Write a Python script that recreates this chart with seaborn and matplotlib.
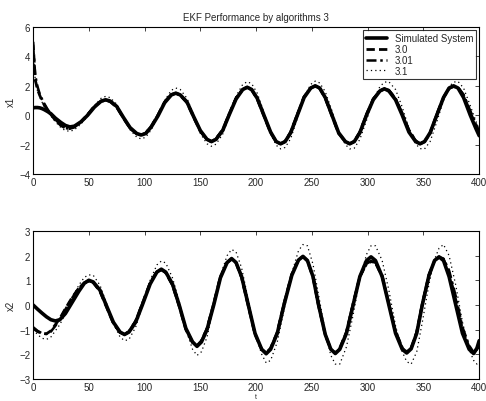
import matplotlib
matplotlib.use("Agg")
import matplotlib.pyplot as plt
import seaborn as sns
import pandas as pd

# time samples (x1)
t_top = [0, 2, 4, 6, 8, 10, 13, 16, 20, 25, 29, 33,
         37, 43, 49, 55, 61, 65, 69, 75, 81, 87, 93, 97,
         101, 106, 112, 118, 124, 128, 132, 138, 144, 150, 156, 160,
         164, 170, 176, 182, 188, 192, 196, 201, 207, 213, 218, 222,
         226, 231, 237, 243, 249, 253, 257, 262, 268, 274, 280, 284,
         288, 293, 299, 305, 311, 315, 319, 325, 331, 337, 343, 347,
         351, 356, 362, 368, 373, 377, 381, 386, 392, 397, 400]
x1_sim = [0.5, 0.52, 0.52, 0.5, 0.45, 0.38, 0.25, 0.1, -0.2, -0.5, -0.7, -0.8,
          -0.75, -0.45, 0.0, 0.55, 0.95, 1.05, 0.97, 0.6, -0.15, -0.85, -1.25, -1.35,
          -1.25, -0.8, -0.05, 0.85, 1.38, 1.5, 1.38, 0.9, -0.1, -1.05, -1.65, -1.8,
          -1.65, -1.05, 0.05, 1.1, 1.75, 1.9, 1.75, 1.15, 0.0, -1.15, -1.8, -1.95,
          -1.8, -1.2, 0.0, 1.2, 1.85, 2.0, 1.85, 1.2, 0.0, -1.2, -1.8, -1.95,
          -1.8, -1.2, 0.0, 1.05, 1.65, 1.8, 1.65, 1.05, 0.0, -1.15, -1.8, -1.95,
          -1.8, -1.2, 0.0, 1.2, 1.85, 2.0, 1.85, 1.2, 0.0, -0.9, -1.4]
x1_30 = [5.0, 2.4, 1.75, 1.35, 1.0, 0.7, 0.35, 0.05, -0.35, -0.7, -0.88, -0.92,
         -0.8, -0.45, 0.05, 0.6, 0.95, 1.0, 0.93, 0.55, -0.2, -0.9, -1.28, -1.35,
         -1.22, -0.75, 0.0, 0.9, 1.4, 1.5, 1.35, 0.85, -0.15, -1.1, -1.65, -1.8,
         -1.6, -1.0, 0.1, 1.15, 1.75, 1.9, 1.72, 1.1, -0.05, -1.2, -1.8, -1.95,
         -1.78, -1.15, 0.05, 1.25, 1.85, 2.0, 1.82, 1.15, -0.05, -1.25, -1.8, -1.95,
         -1.78, -1.15, 0.05, 1.1, 1.65, 1.78, 1.68, 1.1, 0.1, -1.05, -1.75, -1.95,
         -1.8, -1.2, 0.05, 1.2, 1.82, 1.95, 1.88, 1.35, 0.2, -0.7, -1.2]
x1_301 = [4.8, 2.7, 1.95, 1.45, 1.1, 0.8, 0.4, 0.1, -0.3, -0.68, -0.88, -0.93,
          -0.82, -0.47, 0.05, 0.62, 0.97, 1.02, 0.95, 0.57, -0.18, -0.88, -1.28, -1.37,
          -1.22, -0.75, 0.02, 0.92, 1.42, 1.52, 1.38, 0.88, -0.12, -1.08, -1.67, -1.82,
          -1.62, -1.0, 0.12, 1.17, 1.77, 1.92, 1.75, 1.12, -0.03, -1.18, -1.8, -1.97,
          -1.8, -1.15, 0.07, 1.27, 1.87, 2.0, 1.85, 1.18, -0.03, -1.22, -1.8, -1.97,
          -1.8, -1.15, 0.07, 1.12, 1.68, 1.8, 1.72, 1.15, 0.15, -1.0, -1.72, -1.95,
          -1.82, -1.25, 0.07, 1.22, 1.83, 1.95, 1.9, 1.4, 0.3, -0.6, -1.1]
x1_31 = [5.0, 2.3, 1.65, 1.25, 0.9, 0.6, 0.25, -0.05, -0.45, -0.85, -1.05, -1.1,
         -1.0, -0.6, -0.05, 0.65, 1.15, 1.28, 1.2, 0.75, -0.1, -1.0, -1.5, -1.62,
         -1.5, -1.0, -0.05, 1.0, 1.7, 1.85, 1.75, 1.15, 0.0, -1.25, -1.95, -2.12,
         -1.98, -1.3, -0.05, 1.3, 2.1, 2.28, 2.15, 1.5, 0.2, -1.25, -2.05, -2.3,
         -2.2, -1.6, -0.2, 1.25, 2.1, 2.32, 2.2, 1.6, 0.3, -1.15, -2.0, -2.3,
         -2.25, -1.65, -0.35, 1.05, 1.95, 2.25, 2.28, 1.75, 0.55, -0.9, -1.95, -2.28,
         -2.3, -1.8, -0.45, 1.0, 1.95, 2.25, 2.3, 1.85, 0.65, -0.4, -0.95]

# time samples (x2)
t_bot = [0, 4, 8, 12, 16, 20,
         24, 29, 35, 41, 46, 50, 54, 60, 66, 72, 78, 82,
         86, 92, 98, 105, 111, 115, 119, 125, 131, 137, 143, 147,
         151, 156, 162, 168, 174, 178, 182, 187, 193, 199, 205, 209,
         213, 219, 225, 232, 238, 242, 246, 251, 256, 262, 267, 271,
         275, 281, 287, 293, 299, 303, 307, 313, 319, 325, 331, 335,
         339, 344, 349, 355, 360, 364, 368, 373, 379, 385, 391, 395,
         398, 400]
x2_sim = [0.0, -0.17, -0.33, -0.48, -0.6, -0.65,
          -0.6, -0.35, 0.1, 0.55, 0.88, 1.0, 0.93, 0.6, -0.05, -0.7, -1.1, -1.2,
          -1.1, -0.7, 0.0, 0.85, 1.33, 1.45, 1.33, 0.85, 0.0, -0.95, -1.5, -1.68,
          -1.5, -1.0, 0.0, 1.1, 1.72, 1.88, 1.72, 1.15, 0.0, -1.15, -1.8, -1.98,
          -1.8, -1.15, 0.0, 1.2, 1.82, 1.97, 1.8, 1.15, 0.0, -1.2, -1.8, -1.97,
          -1.8, -1.15, 0.0, 1.15, 1.8, 1.95, 1.8, 1.15, 0.0, -1.15, -1.8, -1.95,
          -1.78, -1.15, 0.0, 1.2, 1.8, 1.95, 1.8, 1.15, 0.0, -1.15, -1.8, -1.97,
          -1.75, -1.45]
x2_30 = [-0.95, -1.08, -1.16, -1.17, -1.05, -0.8,
         -0.55, -0.15, 0.3, 0.68, 0.9, 0.97, 0.9, 0.55, -0.1, -0.75, -1.12, -1.2,
         -1.08, -0.65, 0.05, 0.9, 1.35, 1.43, 1.3, 0.8, -0.05, -1.0, -1.52, -1.65,
         -1.45, -0.95, 0.05, 1.15, 1.72, 1.85, 1.7, 1.1, -0.05, -1.2, -1.8, -1.95,
         -1.75, -1.1, 0.05, 1.25, 1.83, 1.95, 1.78, 1.12, -0.05, -1.22, -1.8, -1.95,
         -1.75, -1.1, 0.05, 1.15, 1.68, 1.78, 1.7, 1.15, 0.05, -1.1, -1.75, -1.92,
         -1.75, -1.1, 0.05, 1.22, 1.8, 1.93, 1.85, 1.3, 0.2, -1.0, -1.72, -1.95,
         -1.8, -1.55]
x2_301 = [-0.9, -1.05, -1.15, -1.18, -1.08, -0.85,
          -0.58, -0.18, 0.28, 0.68, 0.9, 0.97, 0.92, 0.57, -0.08, -0.73, -1.12, -1.2,
          -1.08, -0.65, 0.05, 0.9, 1.35, 1.43, 1.32, 0.82, -0.03, -0.98, -1.52, -1.66,
          -1.47, -0.95, 0.05, 1.15, 1.73, 1.86, 1.72, 1.12, -0.03, -1.18, -1.8, -1.96,
          -1.77, -1.12, 0.05, 1.23, 1.83, 1.96, 1.8, 1.15, -0.02, -1.2, -1.8, -1.96,
          -1.77, -1.1, 0.07, 1.15, 1.65, 1.75, 1.72, 1.2, 0.1, -1.05, -1.72, -1.9,
          -1.75, -1.1, 0.05, 1.22, 1.8, 1.95, 1.88, 1.4, 0.35, -0.9, -1.65, -1.92,
          -1.82, -1.62]
x2_31 = [-1.0, -1.2, -1.35, -1.4, -1.3, -1.05,
         -0.8, -0.35, 0.25, 0.8, 1.12, 1.22, 1.2, 0.8, 0.05, -0.75, -1.3, -1.45,
         -1.4, -0.9, -0.05, 1.0, 1.62, 1.78, 1.7, 1.1, 0.15, -1.0, -1.8, -2.05,
         -1.9, -1.3, -0.1, 1.2, 2.0, 2.25, 2.15, 1.5, 0.2, -1.15, -2.0, -2.35,
         -2.25, -1.5, -0.2, 1.3, 2.2, 2.45, 2.4, 1.65, 0.4, -1.1, -2.05, -2.4,
         -2.4, -1.7, -0.4, 1.05, 2.05, 2.4, 2.4, 1.8, 0.6, -0.85, -1.9, -2.3,
         -2.4, -1.9, -0.7, 0.85, 1.85, 2.3, 2.45, 2.0, 0.8, -0.7, -1.8, -2.25,
         -2.4, -2.35]

series = ['Simulated System', '3.0', '3.01', '3.1']
line_styles = {'Simulated System': dict(linestyle='-', linewidth=2.6),
               '3.0': dict(linestyle=(0, (3, 1.5)), linewidth=2.0),
               '3.01': dict(linestyle=(0, (4, 1.5, 1, 1.5)), linewidth=1.8),
               '3.1': dict(linestyle=(0, (1, 2.5)), linewidth=0.9)}

top = pd.DataFrame({'t': t_top, 'Simulated System': x1_sim, '3.0': x1_30,
                    '3.01': x1_301, '3.1': x1_31})
bot = pd.DataFrame({'t': t_bot, 'Simulated System': x2_sim, '3.0': x2_30,
                    '3.01': x2_301, '3.1': x2_31})

sns.set_style("white")
plt.rcParams['font.family'] = ['Liberation Sans', 'DejaVu Sans']
plt.rcParams['font.size'] = 7

fig = plt.figure(figsize=(4.86, 4.02), dpi=100)
ax1 = fig.add_axes([0.068, 0.565, 0.918, 0.365])
ax2 = fig.add_axes([0.068, 0.055, 0.918, 0.368])

for ax, df, ylab in [(ax1, top, 'x1'), (ax2, bot, 'x2')]:
    for s in series:
        sns.lineplot(data=df, x='t', y=s, ax=ax, color='black', label=s,
                     legend=False, **line_styles[s])
    ax.set_xlim(0, 400)
    ax.set_xticks(range(0, 401, 50))
    ax.set_ylabel(ylab, fontsize=7, labelpad=2)
    ax.set_xlabel('')
    ax.tick_params(direction='in', length=3, width=0.6, labelsize=7, pad=2,
                   top=True, right=True)
    for sp in ax.spines.values():
        sp.set_linewidth(0.8)
        sp.set_color('black')

ax1.set_ylim(-4, 6)
ax1.set_yticks(range(-4, 7, 2))
ax2.set_ylim(-3, 3)
ax2.set_yticks(range(-3, 4))
ax2.set_xlabel('t', fontsize=5, labelpad=1)
ax1.set_title('EKF Performance by algorithms 3', fontsize=7, pad=5)

leg = ax1.legend(loc='upper right', fontsize=7, frameon=True, fancybox=False,
                 handlelength=2.2, borderpad=0.3, labelspacing=0.1,
                 handletextpad=0.8, borderaxespad=0.3)
leg.get_frame().set_edgecolor('black')
leg.get_frame().set_linewidth(0.8)

fig.savefig('out.png', dpi=100)
